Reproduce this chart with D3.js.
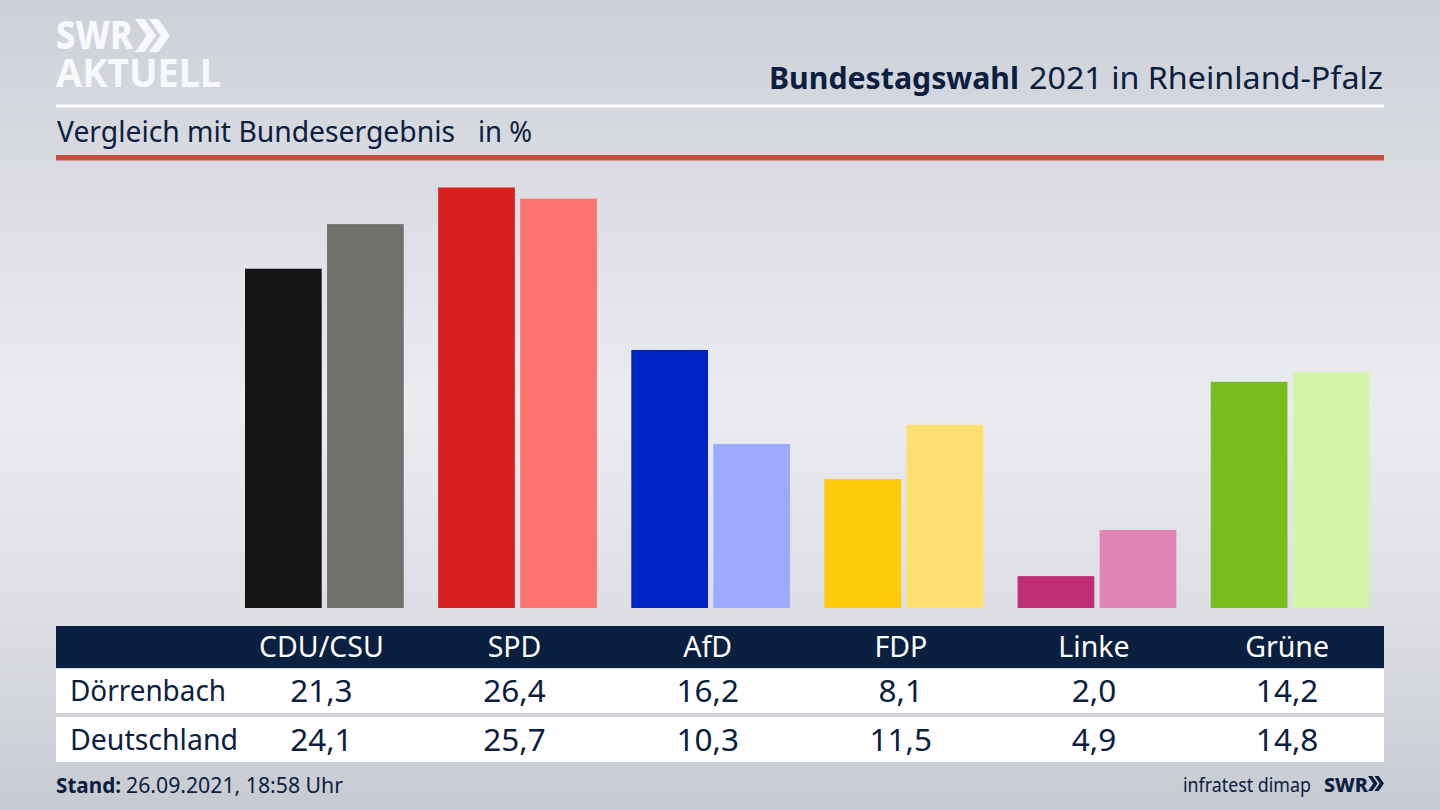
<!DOCTYPE html>
<html>
<head>
<meta charset="utf-8">
<script src="https://cdn.jsdelivr.net/npm/d3@7"></script>
<style>
html, body { margin: 0; padding: 0; background: #d8dae0; overflow: hidden; }
text { font-family: "Noto Sans", sans-serif; fill: #0b2040; }
</style>
</head>
<body>
<svg id="chart" width="1440" height="810"></svg>
<script>
var parties = ["CDU/CSU", "SPD", "AfD", "FDP", "Linke", "Grüne"];
var seriesNames = ["Dörrenbach", "Deutschland"];
var localValues = [21.3, 26.4, 16.2, 8.1, 2.0, 14.2];
var federalValues = [24.1, 25.7, 10.3, 11.5, 4.9, 14.8];
var localColors = ["#141414", "#d81f1f", "#0023c4", "#ffcb0a", "#bd2e75", "#78bd1e"];
var federalColors = ["#71706d", "#ff7370", "#9dabff", "#ffdf70", "#df86b5", "#d3f5a8"];

var NAVY = "#0b2040";
var svg = d3.select("#chart");

// background, lighter band through the middle
var defs = svg.append("defs");
var bg = defs.append("linearGradient").attr("id", "bg").attr("x1", 0).attr("y1", 0).attr("x2", 0).attr("y2", 1);
bg.append("stop").attr("offset", "0%").attr("stop-color", "#cdd0d7");
bg.append("stop").attr("offset", "25%").attr("stop-color", "#dcdee4");
bg.append("stop").attr("offset", "50%").attr("stop-color", "#ebecf0");
bg.append("stop").attr("offset", "75%").attr("stop-color", "#dddfe4");
bg.append("stop").attr("offset", "100%").attr("stop-color", "#c7cad1");
svg.append("rect").attr("width", 1440).attr("height", 810).attr("fill", "url(#bg)");

// text helper, squeezes to the measured width
function label(x, y, str, size, opts) {
	opts = opts || {};
	var t = svg.append("text")
		.attr("x", x)
		.attr("y", y)
		.attr("font-size", size)
		.attr("font-weight", opts.weight || 400)
		.attr("text-anchor", opts.anchor || "start")
		.text(str);
	if (opts.fill) t.style("fill", opts.fill);
	if (opts.width) t.attr("textLength", opts.width).attr("lengthAdjust", "spacingAndGlyphs");
	return t;
}

function chevrons(x, y, w, h, color) {
	var cw = w * 0.6;
	var thick = w * 0.27;
	[0, w - cw].forEach(function (dx) {
		var p = d3.path();
		p.moveTo(x + dx, y);
		p.lineTo(x + dx + thick, y);
		p.lineTo(x + dx + cw, y + h / 2);
		p.lineTo(x + dx + thick, y + h);
		p.lineTo(x + dx, y + h);
		p.lineTo(x + dx + cw - thick, y + h / 2);
		p.closePath();
		svg.append("path").attr("d", p.toString()).attr("fill", color);
	});
}

// header
label(56, 49, "SWR", 39, { weight: 800, fill: "#f7f8fa", width: 77 });
chevrons(135, 19, 35, 33, "#f7f8fa");
label(56, 87, "AKTUELL", 40, { weight: 700, fill: "#f7f8fa", width: 165 });

label(769, 89, "Bundestagswahl", 31, { weight: 700, width: 250 });
label(1029, 89, "2021 in Rheinland-Pfalz", 31, { width: 354 });
svg.append("rect").attr("x", 56).attr("y", 104.5).attr("width", 1328).attr("height", 3).attr("fill", "#ffffff");

label(57, 142, "Vergleich mit Bundesergebnis", 29, { width: 398 });
label(478, 142, "in %", 29, { width: 54 });
svg.append("rect").attr("x", 56).attr("y", 155).attr("width", 1328).attr("height", 5.5).attr("fill", "#c9523f");

// bars
var x0 = d3.scaleBand().domain(parties).range([245, 1369.5]).paddingInner(0.178);
var x1 = d3.scaleBand().domain(seriesNames).range([0, x0.bandwidth()]).paddingInner(0.065);
var y = d3.scaleLinear().domain([0, 26.4]).range([608, 187.5]);

var series = [
	{ name: seriesNames[0], values: localValues, colors: localColors },
	{ name: seriesNames[1], values: federalValues, colors: federalColors }
];

series.forEach(function (s) {
	svg.append("g").selectAll("rect")
		.data(parties)
		.join("rect")
		.attr("x", function (d) { return x0(d) + x1(s.name); })
		.attr("y", function (d, i) { return y(s.values[i]); })
		.attr("width", x1.bandwidth())
		.attr("height", function (d, i) { return y(0) - y(s.values[i]); })
		.attr("fill", function (d, i) { return s.colors[i]; });
});

// table below the bars
svg.append("rect").attr("x", 56).attr("y", 626).attr("width", 1328).attr("height", 42).attr("fill", NAVY);
svg.append("rect").attr("x", 56).attr("y", 669).attr("width", 1328).attr("height", 44).attr("fill", "#ffffff");
svg.append("rect").attr("x", 56).attr("y", 717).attr("width", 1328).attr("height", 45).attr("fill", "#ffffff");

function colX(p) { return x0(p) + x0.bandwidth() / 2 - 3; }

parties.forEach(function (p, i) {
	label(colX(p), 657, p, 28.5, { anchor: "middle", fill: "#ffffff" });
	label(colX(p), 702, d3.format(".1f")(localValues[i]).replace(".", ","), 31.5, { anchor: "middle" });
	label(colX(p), 751, d3.format(".1f")(federalValues[i]).replace(".", ","), 31.5, { anchor: "middle" });
});
label(70, 701, seriesNames[0], 29, { width: 156 });
label(70, 750, seriesNames[1], 29, { width: 168 });

// footer
label(56, 793, "Stand:", 21, { weight: 700, width: 65 });
label(126, 793, "26.09.2021, 18:58 Uhr", 21, { width: 217 });
label(1183, 792, "infratest dimap", 20, { width: 128 });
label(1324, 792, "SWR", 20, { weight: 800, width: 44 });
chevrons(1368, 776, 16, 15, NAVY);
</script>
</body>
</html>
